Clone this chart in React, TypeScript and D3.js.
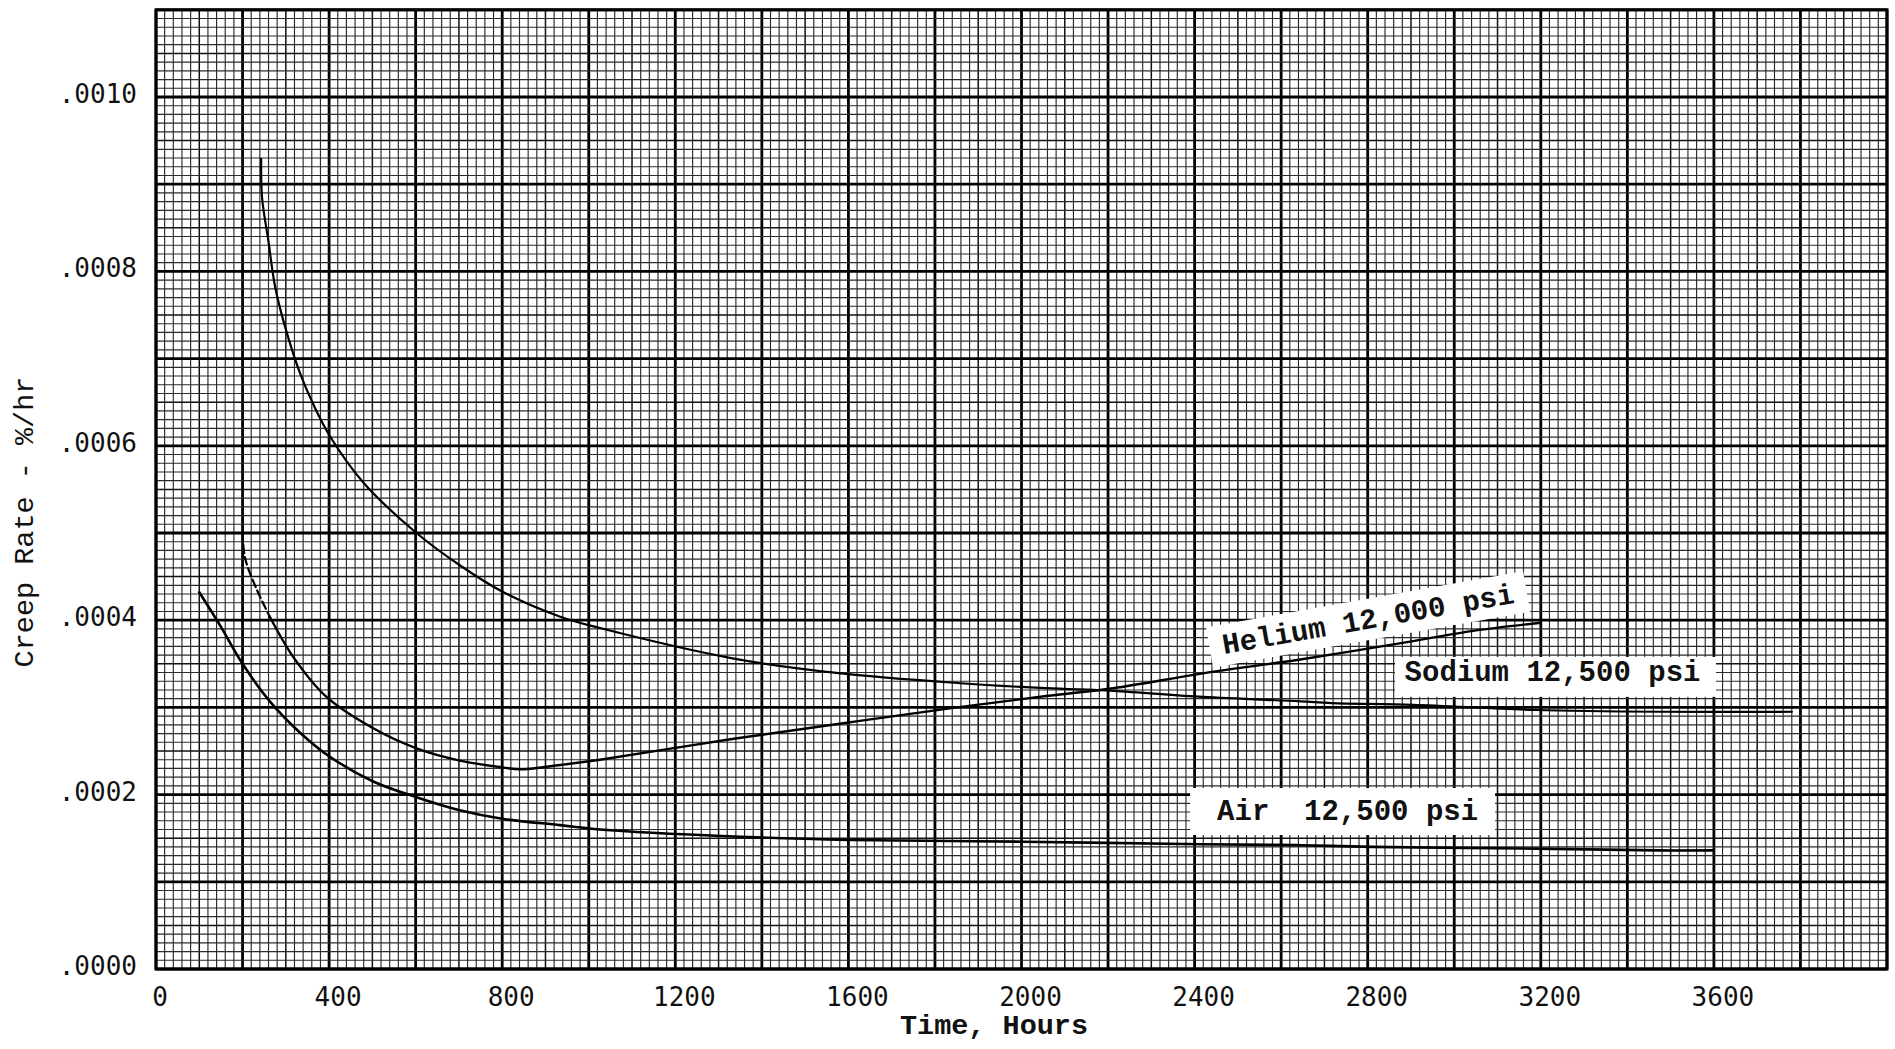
import React from 'react';
import * as d3 from 'd3';

// ---- Data ----
// Creep rate in %/hr vs time in hours
const sodiumHours = [243, 245, 260, 275, 298, 333, 364, 402, 479, 602, 702, 803, 934, 1026, 1335, 1583, 1851, 2057, 2212, 2419, 2644, 2717, 2905, 3188, 3471, 3780];
const sodiumRate = [0.000929, 0.000885, 0.000834, 0.000783, 0.000737, 0.000683, 0.000647, 0.000611, 0.000558, 0.000500, 0.000463, 0.000432, 0.000404, 0.000391, 0.000356, 0.000339, 0.000328, 0.000322, 0.000319, 0.000312, 0.000307, 0.000305, 0.000303, 0.000297, 0.000295, 0.000295];

const heliumHours = [200, 206, 233, 263, 317, 394, 502, 602, 702, 803, 841, 934, 1026, 1335, 1604, 1851, 2057, 2212, 2419, 2644, 2905, 3047, 3200];
const heliumRate = [0.000500, 0.000471, 0.000435, 0.000404, 0.000358, 0.000312, 0.000276, 0.000253, 0.000239, 0.000231, 0.000229, 0.000234, 0.000240, 0.000264, 0.000283, 0.000300, 0.000313, 0.000322, 0.000339, 0.000355, 0.000376, 0.000388, 0.000397];
const heliumDashedUntil = 263; // early part drawn broken

const airHours = [100, 148, 200, 263, 333, 400, 502, 602, 702, 803, 934, 1026, 1335, 1604, 2001, 2419, 2644, 2811, 3188, 3471, 3600];
const airRate = [0.000432, 0.000394, 0.000350, 0.000307, 0.000271, 0.000244, 0.000215, 0.000197, 0.000182, 0.000172, 0.000165, 0.000160, 0.000152, 0.000148, 0.000146, 0.000143, 0.000142, 0.000140, 0.000138, 0.000136, 0.000136];

const xTickValues = [0, 400, 800, 1200, 1600, 2000, 2400, 2800, 3200, 3600];
const yTickValues = [0, 0.0002, 0.0004, 0.0006, 0.0008, 0.0010];
const yTickLabels = ['.0000', '.0002', '.0004', '.0006', '.0008', '.0010'];

const xTitle = 'Time, Hours';
const yTitle = 'Creep Rate - %/hr';

const seriesLabels = ['Helium 12,000 psi', 'Sodium 12,500 psi', 'Air  12,500 psi'];

export default function App() {
  const W = 1895;
  const H = 1049;
  const left = 156, right = 1887, top = 9.8, bottom = 969;
  const x = d3.scaleLinear().domain([0, 4000]).range([left, right]);
  const y = d3.scaleLinear().domain([0, 0.0011]).range([bottom, top]);

  const xGrid = d3.range(0, 201).map((i) => ({ v: i * 20, i }));
  const yGrid = d3.range(0, 111).map((i) => ({ v: i * 0.00001, i }));
  const gw = (i: number) => (i % 10 === 0 ? 2.8 : i % 5 === 0 ? 1.5 : 1.15);
  const gc = (i: number) => (i % 10 === 0 ? '#000' : i % 5 === 0 ? '#111' : '#2a2a2a');

  const line = d3
    .line<[number, number]>()
    .x((d) => x(d[0]))
    .y((d) => y(d[1]))
    .curve(d3.curveCatmullRom.alpha(0.5));

  const zip = (a: number[], b: number[]) => a.map((t, i) => [t, b[i]] as [number, number]);
  const sodium = zip(sodiumHours, sodiumRate);
  const helium = zip(heliumHours, heliumRate);
  const heliumDash = helium.filter((d) => d[0] <= heliumDashedUntil);
  const heliumSolid = helium.filter((d) => d[0] >= heliumDashedUntil);
  const air = zip(airHours, airRate);

  const labelFont = '"Liberation Mono", "Courier New", monospace';
  const tickFont = '"DejaVu Sans Mono", monospace';

  // label boxes (anchored in data units)
  const heC = [x(2801), y(0.0004008)];
  const soC = [x(3234), y(0.000335)];
  const aiC = [x(2742), y(0.0001806)];

  return (
    <svg
      width={W}
      height={H}
      viewBox={`0 0 ${W} ${H}`}
      style={{ position: 'absolute', left: 0, top: 0, background: '#fff' }}
    >
      <rect x={0} y={0} width={W} height={H} fill="#fff" />
      {/* grid */}
      <g>
        {xGrid.map((g) => (
          <line
            key={'x' + g.i}
            x1={x(g.v)}
            x2={x(g.v)}
            y1={top}
            y2={bottom}
            stroke={gc(g.i)}
            strokeWidth={gw(g.i)}
          />
        ))}
        {yGrid.map((g) => (
          <line
            key={'y' + g.i}
            x1={left}
            x2={right}
            y1={y(g.v)}
            y2={y(g.v)}
            stroke={gc(g.i)}
            strokeWidth={gw(g.i)}
          />
        ))}
        <rect x={left} y={top} width={right - left} height={bottom - top} fill="none" stroke="#000" strokeWidth={3} />
      </g>

      {/* label boxes */}
      <g transform={`translate(${heC[0]},${heC[1]}) rotate(-10)`}>
        <rect x={-161} y={-20.5} width={322} height={41} fill="#fff" />
        <text x={0} y={9} textAnchor="middle" fontFamily={labelFont} fontSize={29} fontWeight="bold" fill="#111">
          {seriesLabels[0]}
        </text>
      </g>
      <g transform={`translate(${soC[0]},${soC[1]})`}>
        <rect x={-160.5} y={-20} width={321} height={40} fill="#fff" />
        <text x={-3} y={4} textAnchor="middle" fontFamily={labelFont} fontSize={29} fontWeight="bold" fill="#111">
          {seriesLabels[1]}
        </text>
      </g>
      <g transform={`translate(${aiC[0]},${aiC[1]})`}>
        <rect x={-152.5} y={-23.5} width={305} height={47} fill="#fff" />
        <text x={5} y={8.5} textAnchor="middle" fontFamily={labelFont} fontSize={29} fontWeight="bold" fill="#111" style={{ whiteSpace: 'pre' }}>
          {seriesLabels[2]}
        </text>
      </g>

      {/* curves */}
      <g fill="none" stroke="#000" strokeLinecap="round">
        <path d={line(sodium) || ''} strokeWidth={2.2} />
        <path d={line(heliumDash) || ''} strokeWidth={2.2} strokeDasharray="8 4" />
        <path d={line(heliumSolid) || ''} strokeWidth={2.4} />
        <path d={line(air) || ''} strokeWidth={2.6} />
      </g>

      {/* y tick labels */}
      <g fontFamily={tickFont} fontSize={26} fill="#111" textAnchor="end">
        {yTickValues.map((v, i) => (
          <text key={'yt' + i} x={137} y={y(v) - 3} dominantBaseline="central">
            {yTickLabels[i]}
          </text>
        ))}
      </g>
      {/* x tick labels */}
      <g fontFamily={tickFont} fontSize={26} fill="#111" textAnchor="middle">
        {xTickValues.map((v, i) => (
          <text key={'xt' + i} x={x(v) + (v === 0 ? 4 : 9)} y={997} dominantBaseline="central">
            {String(v)}
          </text>
        ))}
      </g>

      {/* axis titles */}
      <text
        x={994}
        y={1026}
        textAnchor="middle"
        dominantBaseline="central"
        fontFamily={labelFont}
        fontSize={28.5}
        fontWeight="bold"
        fill="#111"
      >
        {xTitle}
      </text>
      <text
        transform={`translate(25,522) rotate(-90)`}
        textAnchor="middle"
        dominantBaseline="central"
        fontFamily={labelFont}
        fontSize={28.5}
        fill="#111"
      >
        {yTitle}
      </text>
    </svg>
  );
}
